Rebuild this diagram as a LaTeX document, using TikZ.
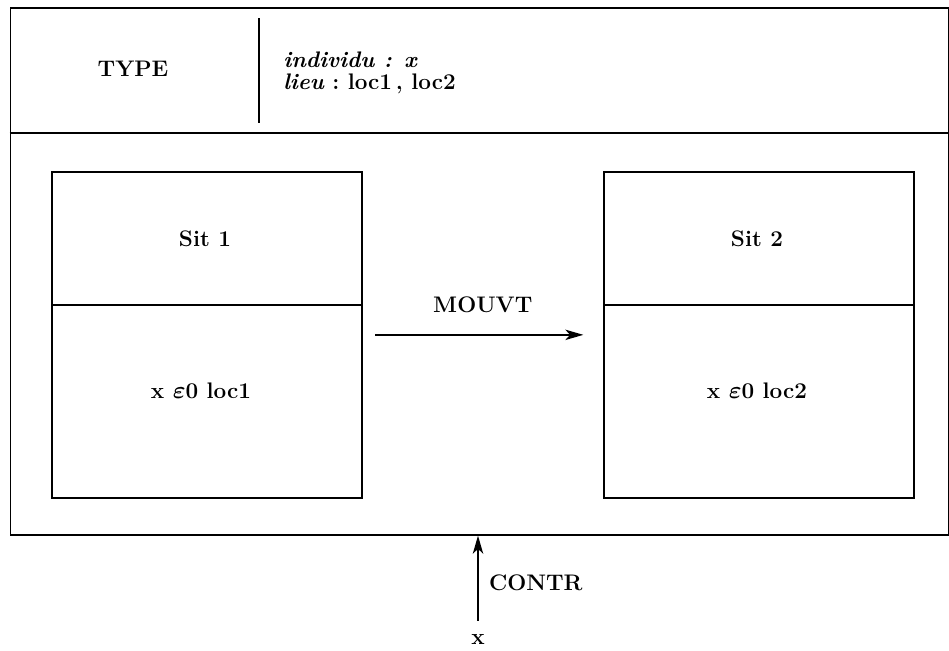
\documentclass[tikz,border=0pt]{standalone}
\usetikzlibrary{arrows.meta}

\begin{document}
\begin{tikzpicture}[
    x=0.025cm, y=-0.025cm,
    frame/.style={line width=1.2pt},
    sitbox/.style={draw, line width=1.2pt, minimum width=310*0.025cm, minimum height=326*0.025cm, inner sep=0pt},
    label/.style={font=\fontsize{16}{15.5}\selectfont\bfseries\boldmath},
    map/.style={line width=1pt,-{Stealth[length=4.5mm,width=2.6mm,inset=1.2mm]}}
]
\useasboundingbox (0,0) rectangle (949,651);

% =========================
% OUTER FRAME
% =========================
\node[draw, frame, minimum width=938.5*0.025cm, minimum height=527*0.025cm, inner sep=0pt,
      anchor=north west] (frame) at (9.5,7) {};
\coordinate (hl) at (9.5,133);
\draw[frame] (hl) -- (hl -| frame.east);

% =========================
% HEADER
% =========================
\node[label] (type) at (133,69) {TYPE};
\coordinate (v1) at (259,18);
\coordinate (v2) at (259,123);
\draw[frame] (v1) -- (v2);
\node[label, anchor=west, align=left, inner sep=0pt] (attr) at (283,73)
    {{\itshape individu : x}\\{\itshape lieu}\ :\ loc1\,,\ loc2};

% =========================
% SITUATIONS
% =========================
\node[sitbox, anchor=north west] (sit1) at (51,171) {};
\node[sitbox, anchor=north west] (sit2) at (603,171) {};

% dividers
\foreach \s in {sit1,sit2}
    \draw[frame] (\s.west |- 0,305) -- (\s.east |- 0,305);

% labels
\node[label] (s1) at (205,239) {Sit 1};
\node[label] (s2) at (757,239) {Sit 2};
\node[label] (e1) at (201,391) {x $\varepsilon$0 loc1};
\node[label] (e2) at (757,391) {x $\varepsilon$0 loc2};

% =========================
% ARROWS
% =========================
\draw[map, shorten <=9pt, shorten >=14pt] (sit1.east) -- (sit2.west)
    node[midway, above=12pt, label] (mouvt) {MOUVT};

\node[label] (xin) at (478,639) {x};
\draw[map, shorten <=6pt] (xin.north) -- (xin |- frame.south)
    node[midway, right=4pt, label] (contr) {CONTR};
\end{tikzpicture}
\end{document}
